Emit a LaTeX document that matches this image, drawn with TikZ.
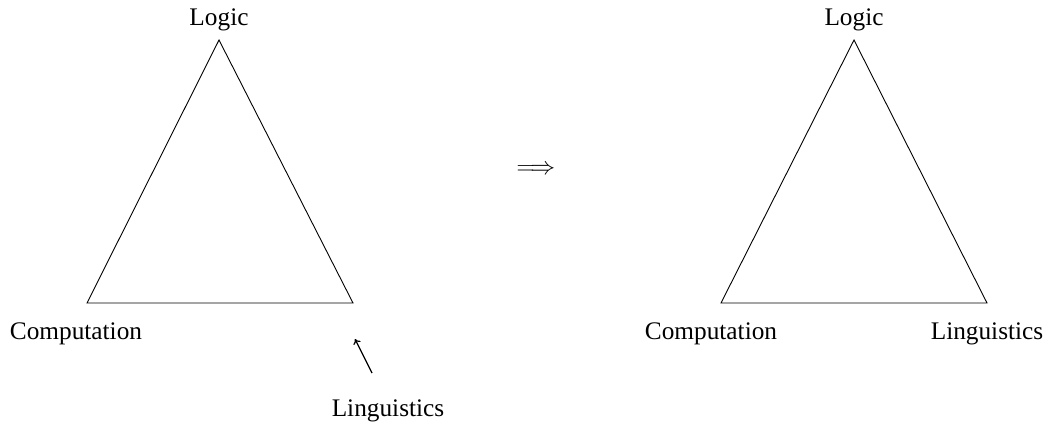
\documentclass[tikz,border=0pt]{standalone}
\usepackage{fontspec}
\setmainfont{Liberation Serif}
\usetikzlibrary{arrows.meta}
\begin{document}
\begin{tikzpicture}[x=1pt,y=-1pt,
  lbl/.style={font=\fontsize{25.3}{30}\selectfont, inner sep=0pt, anchor=base},
  edge/.style={line width=0.9pt, line join=miter}]
\useasboundingbox (0,0) rectangle (1048,423);
% left triangle
\coordinate (L1) at (219,40);
\coordinate (C1) at (87,303);
\coordinate (G1) at (353,303);
\draw[edge] (L1) -- (C1) -- (G1) -- cycle;
\node[lbl] (logic1) at (219,25) {Logic};
\node[lbl] (comp1) at (76,339) {Computation};
\node[lbl] (ling1) at (388,416) {Linguistics};
\coordinate (atail) at (372,373);
\coordinate (ahead) at (355,339);
\draw[line width=1.2pt, -{To[length=5pt,width=8pt]}] (atail) -- (ahead);
% implies
\node[font=\fontsize{26.5}{30}\selectfont, inner sep=0pt] (impl) at (536,170) {$\Longrightarrow$};
% right triangle
\coordinate (L2) at (854,40);
\coordinate (C2) at (721,303);
\coordinate (G2) at (987,303);
\draw[edge] (L2) -- (C2) -- (G2) -- cycle;
\node[lbl] (logic2) at (854,25) {Logic};
\node[lbl] (comp2) at (711,339) {Computation};
\node[lbl] (ling2) at (987,339) {Linguistics};
\end{tikzpicture}
\end{document}
